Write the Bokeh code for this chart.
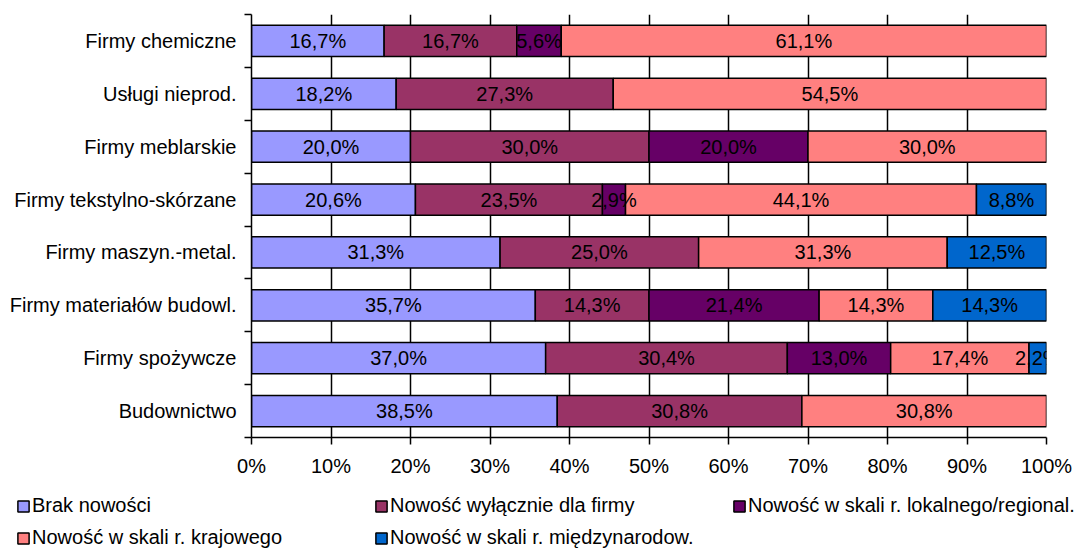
import numpy as np
from bokeh.plotting import figure
from bokeh.layouts import column, row
from bokeh.models import (ColumnDataSource, FixedTicker, Legend, LegendItem,
                          PrintfTickFormatter, Range1d)
from bokeh.core.properties import value
from bokeh.embed import file_html
from bokeh.resources import INLINE

# Branches, listed top to bottom
categories = [
    "Firmy chemiczne",
    "Usługi nieprod.",
    "Firmy meblarskie",
    "Firmy tekstylno-skórzane",
    "Firmy maszyn.-metal.",
    "Firmy materiałów budowl.",
    "Firmy spożywcze",
    "Budownictwo",
]

series_names = [
    "Brak nowości",
    "Nowość wyłącznie dla firmy",
    "Nowość w skali r. lokalnego/regional.",
    "Nowość w skali r. krajowego",
    "Nowość w skali r. międzynarodow.",
]

# Shares (%) per branch, same order as categories
brak_nowosci = [16.7, 18.2, 20.0, 20.6, 31.3, 35.7, 37.0, 38.5]
wylacznie_dla_firmy = [16.7, 27.3, 30.0, 23.5, 25.0, 14.3, 30.4, 30.8]
lokalna_regionalna = [5.6, 0.0, 20.0, 2.9, 0.0, 21.4, 13.0, 0.0]
krajowa = [61.1, 54.5, 30.0, 44.1, 31.3, 14.3, 17.4, 30.8]
miedzynarodowa = [0.0, 0.0, 0.0, 8.8, 12.5, 14.3, 2.2, 0.0]

x_ticks = [0, 10, 20, 30, 40, 50, 60, 70, 80, 90, 100]

colors = ["#9999FF", "#993366", "#660066", "#FF8080", "#0066CC"]
FONT = "Liberation Sans"
FSIZE = "20px"

series = [brak_nowosci, wylacznie_dla_firmy, lokalna_regionalna, krajowa, miedzynarodowa]
vals = np.array(series, dtype=float)          # shape (series, categories)
totals = vals.sum(axis=0)
shares = vals / totals * 100.0                # 100% stacked
rights = np.cumsum(shares, axis=0)
lefts = rights - shares

n = len(categories)
y_pos = [n - 1 - i + 0.5 for i in range(n)]

p = figure(width=1082, height=480,
           x_range=Range1d(0, 100), y_range=Range1d(0, n),
           output_backend="svg", toolbar_location=None,
           min_border_left=251, min_border_right=36,
           min_border_top=14, min_border_bottom=43)
p.outline_line_color = None
p.background_fill_color = "white"
p.border_fill_color = "white"

# vertical black gridlines, bars are drawn over them
p.ygrid.grid_line_color = None
p.xgrid.ticker = FixedTicker(ticks=x_ticks)
p.xgrid.grid_line_color = "black"
p.xgrid.grid_line_width = 1.5
p.xgrid.grid_line_alpha = 1.0

xa = p.xaxis[0]
xa.ticker = FixedTicker(ticks=x_ticks)
xa.formatter = PrintfTickFormatter(format="%d%%")
xa.axis_line_color = "black"
xa.axis_line_width = 1.5
xa.major_tick_line_color = "black"
xa.major_tick_line_width = 1.5
xa.major_tick_out = 7
xa.major_tick_in = 0
xa.minor_tick_line_color = None
xa.major_label_standoff = 10
xa.major_label_text_font = FONT
xa.major_label_text_font_size = FSIZE
xa.major_label_text_color = "black"

ya = p.yaxis[0]
ya.ticker = FixedTicker(ticks=y_pos, minor_ticks=list(range(n + 1)))
ya.major_label_overrides = {y: c for y, c in zip(y_pos, categories)}
ya.axis_line_color = "black"
ya.axis_line_width = 1.5
ya.major_tick_out = 0
ya.major_tick_in = 0
ya.major_tick_line_color = None
ya.minor_tick_out = 7
ya.minor_tick_in = 0
ya.minor_tick_line_color = "black"
ya.minor_tick_line_width = 1.5
ya.major_label_standoff = 8
ya.major_label_text_font = FONT
ya.major_label_text_font_size = FSIZE
ya.major_label_text_color = "black"

lab_x, lab_y, lab_t = [], [], []
for s, color in enumerate(colors):
    keep = [i for i in range(n) if vals[s, i] > 0]
    src = ColumnDataSource(dict(
        y=[y_pos[i] for i in keep],
        left=[lefts[s, i] for i in keep],
        right=[rights[s, i] for i in keep],
    ))
    p.hbar(y="y", left="left", right="right", height=0.59, source=src,
           fill_color=color, line_color="black", line_width=1.5)
    for i in keep:
        lab_x.append((lefts[s, i] + rights[s, i]) / 2)
        lab_y.append(y_pos[i])
        lab_t.append(f"{vals[s, i]:.1f}".replace(".", ",") + "%")

p.text(x="x", y="y", text="t",
       source=ColumnDataSource(dict(x=lab_x, y=lab_y, t=lab_t)),
       text_align="center", text_baseline="middle",
       text_font=value(FONT), text_font_size=FSIZE, text_color="black")

# Legend strip below the chart
lg = figure(width=1082, height=68, x_range=Range1d(0, 1), y_range=Range1d(0, 1),
            output_backend="svg", toolbar_location=None,
            x_axis_location=None, y_axis_location=None,
            min_border_left=0, min_border_right=0,
            min_border_top=0, min_border_bottom=0)
lg.grid.visible = False
lg.outline_line_color = None
lg.border_fill_color = "white"

# key swatches: zero-size stubs kept outside the visible range
key_renderers = []
for color in colors:
    r = lg.hbar(y=[-1], left=[0], right=[0], height=0.5,
                fill_color=color, line_color="black", line_width=1.5)
    key_renderers.append(r)

legend = Legend(
    items=[LegendItem(label=nm, renderers=[r]) for nm, r in zip(series_names, key_renderers)],
    location=(16, -1), orientation="horizontal", ncols=3,
    glyph_width=14, glyph_height=14, label_standoff=2,
    label_width=333, label_height=20, spacing=9,
    padding=0, margin=0,
    label_text_font=FONT, label_text_font_size=FSIZE, label_text_color="black",
    border_line_color=None, background_fill_alpha=0.0,
)
lg.add_layout(legend)

layout = column(p, row(lg), spacing=0)
open("out.html", "w").write(file_html(layout, INLINE))
